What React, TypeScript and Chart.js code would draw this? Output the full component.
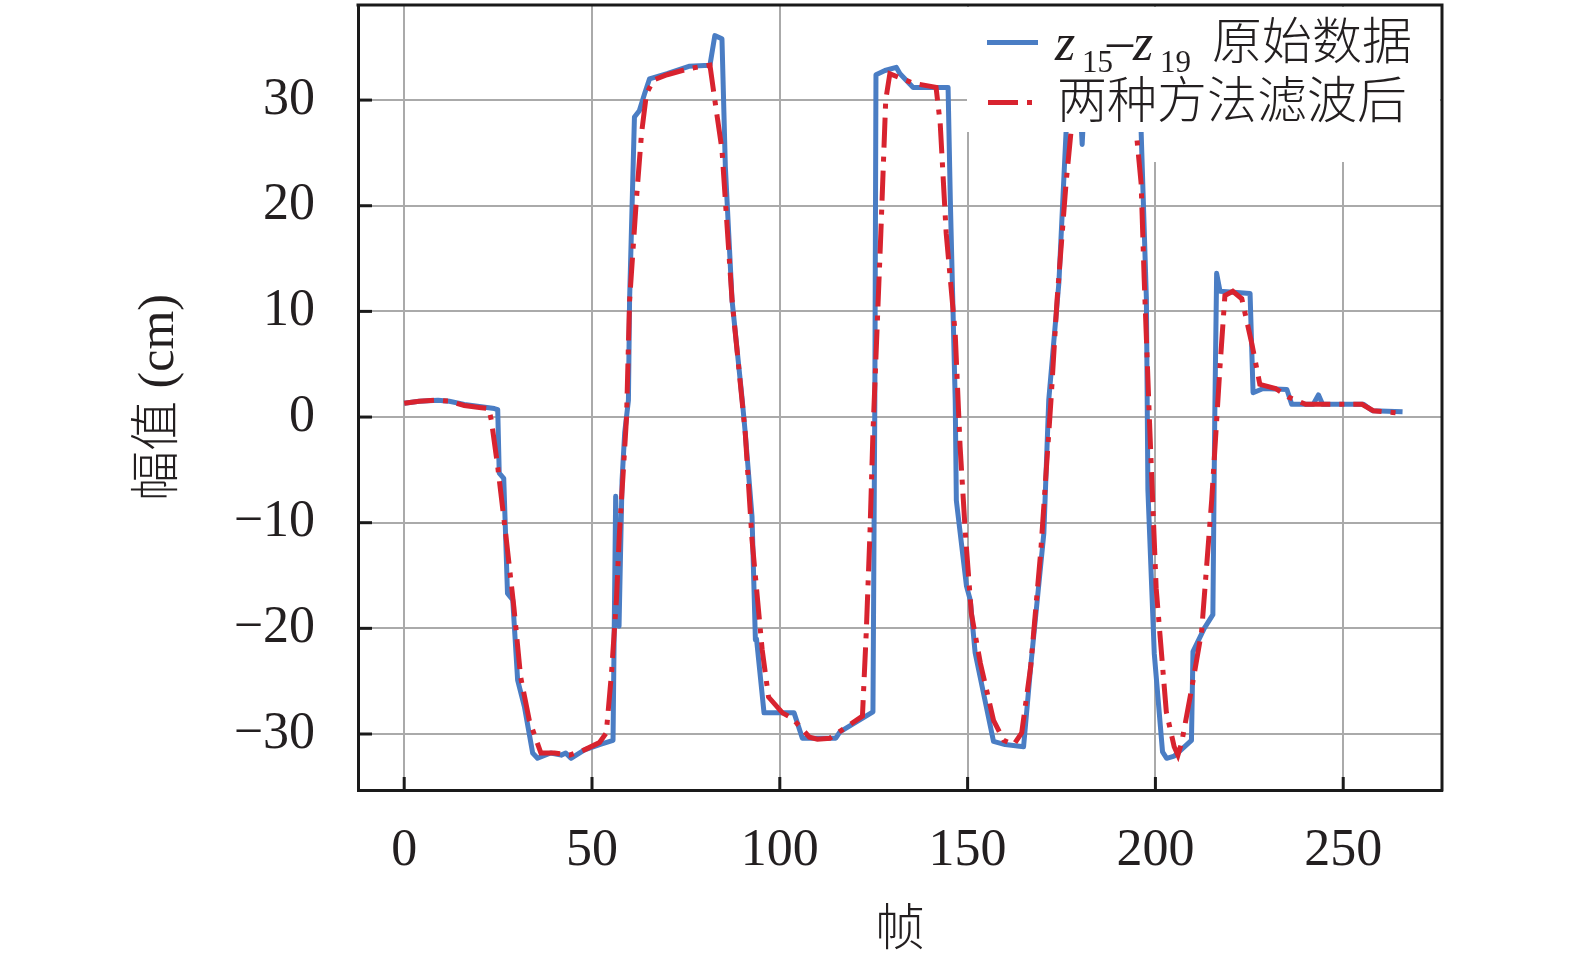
import React, { useEffect, useRef } from "react";
import { Chart, registerables } from "chart.js";

Chart.register(...registerables);

// ---- data ----
const rawFrames = [
  0, 4, 9, 12, 16, 20, 24, 24.9, 25.3, 26.5, 27.5, 28.9, 30.2, 32, 34.2, 35.5, 39, 41.8, 43, 44.4, 48, 52,
  55.6, 56.3, 57.2, 58, 58.7, 59.7, 60, 61.3, 62.6, 64, 65.3, 70, 75.8, 81.4, 82.7, 84.6, 85.5, 87.3, 90,
  90.8, 92.6, 93.5, 93.8, 95.8, 103.8, 106, 114.9, 116, 124.8, 125.3, 125.6, 128, 131, 132, 135.5, 144.8,
  145.4, 146.7, 147, 149.7, 150.7, 152, 156.9, 160, 164.9, 166.8, 170.3, 171.6, 174.3, 176.2, 178, 179.5,
  180.5, 181.5, 185, 190, 195, 196.2, 197.6, 198, 199.7, 201.9, 203, 205, 209.6, 210, 213, 215.3, 215.8,
  216.3, 217.2, 225.2, 226, 228.7, 235, 236.3, 242, 243.4, 244.5, 255.4, 257.8, 265.8,
];
const rawValues = [
  1.3, 1.5, 1.6, 1.5, 1.2, 1.0, 0.8, 0.7, -5.3, -5.8, -16.7, -17.3, -24.9, -27.4, -31.8, -32.3, -31.8, -32.0,
  -31.8, -32.3, -31.5, -31.0, -30.6, -7.5, -19.8, -6, -1.5, 1.6, 11, 28.4, 29.0, 30.6, 32.0, 32.5, 33.2,
  33.3, 36.1, 35.8, 23.7, 11, 1.6, -1.5, -9.4, -21.1, -21, -28, -28, -30.4, -30.4, -29.8, -27.9, 1.6, 32.4,
  32.8, 33.1, 32.5, 31.2, 31.2, 20.5, 1.6, -7.9, -16, -17.3, -22.3, -30.7, -31, -31.2, -23.6, -11, 1.6, 12.7,
  26.9, 31, 33, 25.8, 33, 33, 33, 32, 27, 11.2, -6.9, -22.4, -31.7, -32.3, -32.1, -30.6, -22.2, -20, -18.7,
  0, 13.6, 11.9, 11.7, 2.3, 2.7, 2.6, 1.2, 1.2, 2.1, 1.2, 1.2, 0.6, 0.5,
];

const filteredFrames = [
  0, 4, 8, 12, 16, 20, 22.5, 23.2, 24.9, 27, 29.2, 31, 33.3, 36.4, 40, 44, 48, 52, 53.8, 55.2, 56.5, 57.3,
  58.4, 59.2, 60, 61.8, 63.2, 64.5, 66.4, 70, 76, 81.4, 82.7, 84.6, 87.3, 90.8, 92.6, 95.3, 97, 100.7, 103.3,
  107.9, 110, 113.3, 117.5, 122, 123, 124, 124.8, 126.9, 128.2, 129.3, 135.5, 141.6, 142.7, 144.3, 146.7,
  148, 149.4, 151, 153.4, 156.9, 159.6, 162.3, 164.4, 166.8, 169.5, 172.2, 173.8, 176.2, 177.5, 180, 185,
  190, 193, 194.9, 196.2, 197, 198.4, 200.2, 202.9, 205, 206, 207, 209.6, 212.3, 215, 217.2, 218.5, 220.6,
  223, 225.7, 227.8, 232, 235.4, 240, 255, 258, 264,
];
const filteredValues = [
  1.3, 1.5, 1.6, 1.5, 1.1, 0.9, 0.8, -0.3, -4.7, -11, -18, -24.6, -28.7, -31.8, -31.8, -32, -31.5, -30.8,
  -29.9, -24.2, -17.3, -11, -4.7, 0, 11, 20.5, 26.9, 30.6, 31.9, 32.4, 33, 33.3, 30, 25.3, 11, -1.5, -11.6,
  -22, -26.5, -28, -28.5, -30.3, -30.5, -30.4, -29.4, -28.3, -20.5, -11, -1.5, 17.4, 30, 32.5, 31.6, 31.2,
  27.8, 17.4, 7.9, -2.8, -11, -18.6, -23.3, -28.7, -30.6, -31, -29.9, -23.6, -12.6, 1.6, 11, 22.1, 26.9, 31,
  33, 33, 31, 27, 22.1, 13.2, -0.2, -16.2, -27.9, -31.2, -32, -30.8, -25.8, -20.3, -7.8, 4.8, 11.5, 11.9,
  11.2, 6.9, 3.1, 2.7, 1.9, 1.2, 1.2, 0.6, 0.4,
];

const xTicks = [0, 50, 100, 150, 200, 250];
const yTicks = [-30, -20, -10, 0, 10, 20, 30];

const BLUE = "#4a7dc4";
const RED = "#d8232f";
const INK = "#231f20";
const SERIF = "'Liberation Serif', 'DejaVu Serif', serif";
const CJK = "'Liberation Serif', 'Noto Sans CJK SC', sans-serif";

const framePlugin = {
  id: "frameAndLegend",
  beforeDatasetsDraw(chart: any) {
    const { ctx, chartArea } = chart;
    ctx.save();
    ctx.fillStyle = "#ffffff";
    ctx.fillRect(1146, 132, chartArea.right - 1146 - 2, 30);
    ctx.restore();
  },
  afterDraw(chart: any) {
    const { ctx, chartArea, scales } = chart;
    const { left, right, top, bottom } = chartArea;
    ctx.save();
    // legend box (opaque, no border)
    ctx.fillStyle = "#ffffff";
    ctx.fillRect(967, top + 2, right - 967 - 2, 132 - top - 2);

    // legend samples
    ctx.lineWidth = 5;
    ctx.strokeStyle = BLUE;
    ctx.setLineDash([]);
    ctx.beginPath();
    ctx.moveTo(987, 42.5);
    ctx.lineTo(1038, 42.5);
    ctx.stroke();
    ctx.strokeStyle = RED;
    ctx.setLineDash([30, 9, 5, 9]);
    ctx.beginPath();
    ctx.moveTo(988, 102.5);
    ctx.lineTo(1034, 102.5);
    ctx.stroke();
    ctx.setLineDash([]);

    // legend text
    ctx.fillStyle = INK;
    ctx.textBaseline = "alphabetic";
    ctx.textAlign = "left";
    ctx.font = `italic 52px ${SERIF}`;
    ctx.fillText("z", 1055, 60);
    ctx.fillText("z", 1133, 60);
    ctx.font = `31px ${SERIF}`;
    ctx.fillText("15", 1082, 72);
    ctx.fillText("19", 1160, 72);
    ctx.font = `52px ${SERIF}`;
    ctx.fillText("\u2013", 1107, 58);
    ctx.font = `300 50px ${CJK}`;
    ctx.fillText("原始数据", 1212, 59);
    ctx.fillText("两种方法滤波后", 1057, 118);

    // frame: top and right edges
    ctx.strokeStyle = "#1a1a1a";
    ctx.lineWidth = 3;
    ctx.beginPath();
    ctx.moveTo(left - 1.5, top);
    ctx.lineTo(right, top);
    ctx.lineTo(right, bottom + 1.5);
    ctx.stroke();

    // inward tick marks
    ctx.lineWidth = 3;
    const ys = scales.y;
    for (const v of yTicks) {
      const py = ys.getPixelForValue(v);
      ctx.beginPath();
      ctx.moveTo(left, py);
      ctx.lineTo(left + 14, py);
      ctx.stroke();
    }
    const xs = scales.x;
    for (const v of xTicks) {
      const px = xs.getPixelForValue(v);
      ctx.beginPath();
      ctx.moveTo(px, bottom);
      ctx.lineTo(px, bottom - 13);
      ctx.stroke();
    }
    ctx.restore();
  },
};

export default function App() {
  const ref = useRef<HTMLCanvasElement | null>(null);

  useEffect(() => {
    if (!ref.current) return;
    const chart = new Chart(ref.current, {
      type: "line",
      data: {
        datasets: [
          {
            label: "两种方法滤波后",
            data: filteredFrames.map((f, i) => ({ x: f, y: filteredValues[i] })),
            borderColor: RED,
            borderWidth: 5,
            borderDash: [30, 9, 5, 9],
            pointRadius: 0,
            tension: 0,
            fill: false,
            order: 0,
          },
          {
            label: "z15–z19 原始数据",
            data: rawFrames.map((f, i) => ({ x: f, y: rawValues[i] })),
            borderColor: BLUE,
            borderWidth: 5,
            borderJoinStyle: "round",
            pointRadius: 0,
            tension: 0,
            fill: false,
            order: 1,
          },
        ],
      },
      options: {
        responsive: false,
        animation: false,
        devicePixelRatio: 1,
        layout: { padding: { top: 5, right: 133, left: 0, bottom: 0 } },
        plugins: { legend: { display: false }, tooltip: { enabled: false } },
        scales: {
          x: {
            type: "linear",
            min: -12.3,
            max: 276.3,
            afterFit: (s: any) => {
              s.height = 178;
              s.paddingLeft = 0;
              s.paddingRight = 0;
            },
            afterBuildTicks: (s: any) => {
              s.ticks = xTicks.map((v) => ({ value: v }));
            },
            grid: { color: "#aaaaaa", lineWidth: 2, drawTicks: false },
            border: { display: true, color: "#1a1a1a", width: 3 },
            ticks: {
              padding: 30,
              color: INK,
              font: { family: SERIF, size: 52 },
              maxRotation: 0,
              autoSkip: false,
              callback: (v: any) => String(v),
            },
            title: {
              display: true,
              text: "帧",
              color: INK,
              font: { family: CJK, size: 50, weight: "300" as any },
              padding: { top: 0, bottom: 6 },
            },
          },
          y: {
            type: "linear",
            min: -35.3,
            max: 39,
            afterFit: (s: any) => {
              s.width = 358;
              s.paddingTop = 0;
              s.paddingBottom = 0;
            },
            afterBuildTicks: (s: any) => {
              s.ticks = yTicks.map((v) => ({ value: v }));
            },
            grid: { color: "#aaaaaa", lineWidth: 2, drawTicks: false },
            border: { display: true, color: "#1a1a1a", width: 3 },
            ticks: {
              padding: 43,
              color: INK,
              font: { family: SERIF, size: 52 },
              autoSkip: false,
              callback: (v: any) => String(v).replace("-", "\u2212"),
            },
            title: {
              display: true,
              text: "幅值 (cm)",
              color: INK,
              font: { family: CJK, size: 50, weight: "300" as any },
              padding: { top: 130, bottom: 0 },
            },
          },
        },
      },
      plugins: [framePlugin],
    });
    return () => chart.destroy();
  }, []);

  return (
    <div style={{ position: "fixed", left: 0, top: 0, width: 1575, height: 968, background: "#fff" }}>
      <canvas ref={ref} width={1575} height={968} style={{ width: 1575, height: 968, display: "block" }} />
    </div>
  );
}
